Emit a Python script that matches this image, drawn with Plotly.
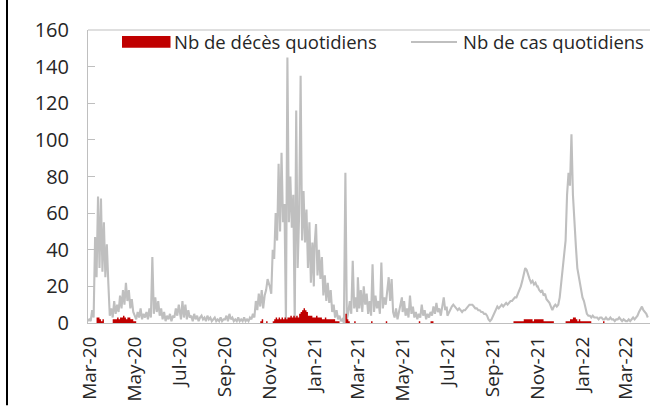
import pandas as pd
import plotly.graph_objects as go

# ---- data: values every 2 days, grouped by two-month period ----
segment_starts = ["2020-02-27", "2020-05-01", "2020-07-01", "2020-09-01", "2020-11-01",
                  "2021-01-01", "2021-03-01", "2021-05-01", "2021-07-01", "2021-09-01",
                  "2021-11-01", "2022-01-01", "2022-03-01"]

cases_s01 = [1, 2, 1, 7, 3, 47, 25, 69, 30, 68, 28, 55, 25, 43, 22, 4, 8, 3, 12, 5,
             10, 6, 15, 8, 18, 10, 22, 12, 18, 8, 13, 6]
cases_s02 = [4, 2, 6, 3, 8, 2, 5, 3, 6, 2, 8, 3, 36, 5, 14, 6, 12, 4, 8, 2,
             6, 1, 4, 2, 5, 1, 4, 3, 8, 4, 10]
cases_s03 = [6, 2, 12, 3, 10, 2, 7, 3, 4, 1, 5, 2, 4, 1, 3, 4, 2, 3, 1, 4,
             2, 3, 1, 2, 3, 1, 2, 1, 3, 1, 2]
cases_s04 = [2, 4, 1, 5, 2, 3, 1, 2, 1, 3, 1, 2, 1, 3, 1, 2, 1, 3, 2, 5,
             3, 12, 7, 16, 9, 18, 8, 15, 18, 24]
cases_s05 = [20, 16, 40, 35, 60, 45, 87, 50, 93, 55, 65, 0, 145, 55, 80, 52, 70, 0, 116, 30,
             60, 135, 45, 72, 44, 62, 30, 55, 22, 44, 20]
cases_s06 = [42, 54, 26, 40, 24, 36, 15, 26, 12, 22, 11, 18, 6, 10, 3, 7, 2, 4, 1, 2,
             0, 82, 2, 6, 12, 5, 34, 8, 14, 6]
cases_s07 = [25, 8, 18, 6, 20, 10, 16, 5, 12, 4, 32, 6, 15, 8, 12, 5, 33, 8, 14, 10,
             20, 25, 12, 24, 6, 3, 8, 2, 6, 10, 14]
cases_s08 = [6, 12, 4, 8, 3, 15, 5, 9, 3, 6, 2, 5, 3, 10, 4, 7, 2, 5, 3, 6,
             4, 9, 5, 11, 6, 8, 4, 10, 14, 7, 9]
cases_s09 = [4, 6, 7, 9, 10, 9, 8, 7, 8, 7, 6, 7, 7, 8, 9, 10, 10, 10, 9, 8,
             8, 7, 7, 6, 6, 5, 5, 4, 2, 1, 2]
cases_s10 = [4, 6, 8, 9, 8, 9, 10, 9, 10, 11, 10, 11, 12, 12, 13, 14, 14, 16, 17, 20,
             23, 27, 30, 29, 26, 24, 22, 23, 21, 22, 20]
cases_s11 = [20, 18, 17, 18, 15, 16, 13, 12, 11, 9, 7, 9, 10, 9, 10, 14, 22, 30, 38, 45,
             70, 82, 75, 103, 70, 52, 42, 30, 25, 21, 16]
cases_s12 = [14, 12, 8, 5, 4, 4, 3, 4, 3, 3, 3, 2, 3, 3, 2, 2, 3, 2, 2, 3,
             2, 2, 1, 2, 2, 3, 2, 1, 2, 1]
cases_s13 = [1, 1, 2, 1, 2, 3, 2, 3, 4, 6, 8, 9, 7, 6, 5, 3]

deaths_s01 = [0, 0, 0, 0, 0, 0, 3, 3, 2, 1, 2, 0, 0, 0, 0, 0, 0, 2, 2, 2,
              3, 2, 3, 3, 4, 3, 2, 3, 3, 2, 2, 1]
deaths_s02 = [1, 0, 0, 0, 0, 0, 0, 0, 0, 0, 0, 0, 0, 0, 0, 0, 0, 0, 0, 0,
              0, 0, 0, 0, 0, 0, 0, 0, 0, 0, 0]
deaths_s03 = [0, 0, 0, 0, 0, 0, 0, 0, 0, 0, 0, 0, 0, 0, 0, 0, 0, 0, 0, 0,
              0, 0, 0, 0, 0, 0, 0, 0, 0, 0, 0]
deaths_s04 = [0, 0, 0, 0, 0, 0, 0, 0, 0, 0, 0, 0, 0, 0, 0, 0, 0, 0, 0, 0,
              0, 0, 0, 0, 1, 2, 0, 0, 1, 0]
deaths_s05 = [0, 0, 1, 2, 3, 2, 3, 2, 3, 2, 3, 2, 3, 3, 4, 3, 4, 3, 4, 3,
              5, 6, 7, 8, 7, 6, 4, 4, 4, 3, 3]
deaths_s06 = [3, 4, 3, 3, 3, 2, 2, 3, 2, 2, 2, 2, 2, 2, 1, 1, 1, 0, 0, 0,
              0, 5, 2, 1, 0, 0, 0, 1, 0, 0]
deaths_s07 = [0, 0, 0, 0, 0, 0, 0, 0, 0, 1, 0, 0, 0, 0, 0, 0, 0, 0, 0, 1,
              0, 0, 0, 0, 0, 0, 0, 0, 0, 0, 0]
deaths_s08 = [0, 0, 0, 0, 0, 0, 0, 0, 0, 0, 0, 1, 0, 0, 0, 0, 0, 0, 0, 1,
              1, 0, 0, 0, 0, 0, 0, 0, 0, 0, 0]
deaths_s09 = [0, 0, 0, 0, 0, 0, 0, 0, 0, 0, 0, 0, 0, 0, 0, 0, 0, 0, 0, 0,
              0, 0, 0, 0, 0, 0, 0, 0, 0, 0, 0]
deaths_s10 = [0, 0, 0, 0, 0, 0, 0, 0, 0, 0, 0, 0, 0, 0, 1, 1, 1, 1, 1, 1,
              1, 2, 2, 2, 2, 2, 2, 1, 2, 2, 2]
deaths_s11 = [2, 2, 2, 2, 1, 1, 1, 1, 1, 1, 1, 0, 0, 0, 0, 0, 0, 0, 0, 1,
              1, 1, 2, 2, 3, 3, 2, 1, 2, 1, 1]
deaths_s12 = [1, 1, 1, 1, 1, 1, 0, 0, 0, 0, 0, 0, 0, 0, 1, 0, 0, 0, 0, 0,
              0, 0, 0, 0, 0, 0, 0, 0, 0, 0]
deaths_s13 = [0, 0, 0, 0, 0, 0, 0, 0, 0, 0, 0, 0, 0, 0, 0, 0]

tick_dates = ["2020-03-01", "2020-05-01", "2020-07-01", "2020-09-01", "2020-11-01",
              "2021-01-01", "2021-03-01", "2021-05-01", "2021-07-01", "2021-09-01",
              "2021-11-01", "2022-01-01", "2022-03-01"]
tick_labels = ["Mar-20", "May-20", "Jul-20", "Sep-20", "Nov-20", "Jan-21", "Mar-21",
               "May-21", "Jul-21", "Sep-21", "Nov-21", "Jan-22", "Mar-22"]
y_ticks = [0, 20, 40, 60, 80, 100, 120, 140, 160]

series_names = ["Nb de décès quotidiens", "Nb de cas quotidiens"]

cases_segments = [cases_s01, cases_s02, cases_s03, cases_s04, cases_s05, cases_s06, cases_s07,
                  cases_s08, cases_s09, cases_s10, cases_s11, cases_s12, cases_s13]
deaths_segments = [deaths_s01, deaths_s02, deaths_s03, deaths_s04, deaths_s05, deaths_s06,
                   deaths_s07, deaths_s08, deaths_s09, deaths_s10, deaths_s11, deaths_s12,
                   deaths_s13]

dates, cases, deaths = [], [], []
for start, cs, ds in zip(segment_starts, cases_segments, deaths_segments):
    dates.extend(pd.date_range(start, periods=len(cs), freq="2D"))
    cases.extend(cs)
    deaths.extend(ds)

RED = "#c00000"
GREY = "#bfbfbf"
AXIS = "#bfbfbf"
TXT = "#262626"
FONT = "Open Sans"

fig = go.Figure()
fig.add_trace(go.Scatter(x=dates, y=cases, mode="lines", name=series_names[1],
                         line=dict(color=GREY, width=2.1), showlegend=False))
fig.add_trace(go.Scatter(x=dates, y=deaths, mode="lines", name=series_names[0],
                         line=dict(color=RED, width=0, shape="hv"), fill="tozeroy",
                         fillcolor=RED, showlegend=False))

# plot geometry (pixels) used for the hand-built legend and frame
W, H = 655, 407
ML, MR, MT, MB = 88, 5, 30, 81
PW, PH = W - ML - MR, H - MT - MB


def px(xp):
    return (xp - ML) / PW


def py(yp):
    return (H - MB - yp) / PH


shapes = [
    # top border of plot area
    dict(type="line", xref="paper", yref="paper", x0=0, x1=1, y0=1, y1=1,
         line=dict(color=AXIS, width=1)),
    # black frame line at the far left
    dict(type="line", xref="paper", yref="paper", x0=px(7), x1=px(7), y0=py(H + 2), y1=py(-2),
         line=dict(color="#000000", width=2)),
    # legend symbols
    dict(type="rect", xref="paper", yref="paper", x0=px(122), x1=px(170.5), y0=py(48), y1=py(36),
         fillcolor=RED, line=dict(width=0)),
    dict(type="line", xref="paper", yref="paper", x0=px(411), x1=px(457), y0=py(42), y1=py(42),
         line=dict(color=GREY, width=2)),
]
annotations = [
    dict(text=series_names[0], xref="paper", yref="paper", x=px(172), y=py(42),
         xanchor="left", yanchor="middle", showarrow=False,
         font=dict(family=FONT, size=18.5, color=TXT)),
    dict(text=series_names[1], xref="paper", yref="paper", x=px(461), y=py(42),
         xanchor="left", yanchor="middle", showarrow=False,
         font=dict(family=FONT, size=18.5, color=TXT)),
]

fig.update_layout(
    width=W, height=H,
    margin=dict(l=ML, r=MR, t=MT, b=MB, pad=0),
    paper_bgcolor="white", plot_bgcolor="white",
    font=dict(family=FONT, color=TXT),
    showlegend=False,
    shapes=shapes,
    annotations=annotations,
    xaxis=dict(type="date", range=["2020-02-27 08:00", "2022-04-03"],
               tickmode="array", tickvals=tick_dates, ticktext=tick_labels,
               tickangle=-90, tickfont=dict(family=FONT, size=19, color=TXT),
               showline=True, linecolor=AXIS, linewidth=1, ticks="",
               showgrid=False, zeroline=False, ticklabelstandoff=5),
    yaxis=dict(range=[0, 160], tickmode="array", tickvals=y_ticks,
               ticks="inside", ticklen=7, tickcolor=AXIS,
               tickfont=dict(family=FONT, size=20, color=TXT),
               showline=True, linecolor=AXIS, linewidth=1,
               showgrid=False, zeroline=False, ticklabelstandoff=14),
)

fig.write_html("out.html", config={"displayModeBar": False},
               post_script="document.body.style.margin='0';document.body.style.overflow='hidden';")
